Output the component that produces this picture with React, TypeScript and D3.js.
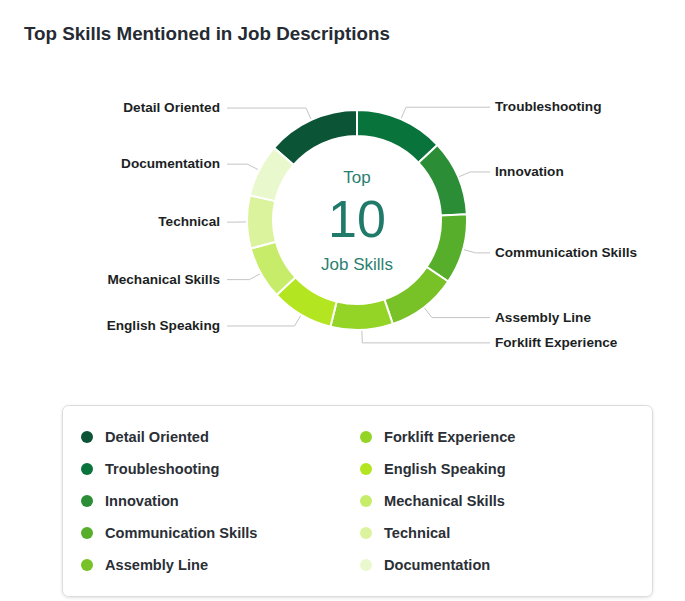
import React from "react";
import * as d3 from "d3";

const title = "Top Skills Mentioned in Job Descriptions";
const categories = [
  "Detail Oriented",
  "Troubleshooting",
  "Innovation",
  "Communication Skills",
  "Assembly Line",
  "Forklift Experience",
  "English Speaking",
  "Mechanical Skills",
  "Technical",
  "Documentation",
];
const values = [49, 47, 40, 37, 37, 33, 33, 28, 28, 28];
const colors = [
  "#0b5436",
  "#08733a",
  "#2b8e37",
  "#56ae2b",
  "#78c126",
  "#94d426",
  "#b3e620",
  "#c6ec69",
  "#dbf39d",
  "#eaf8ce",
];
const centerTop = "Top";
const centerNumber = "10";
const centerBottom = "Job Skills";

const FONT = "'Liberation Sans', Arial, Helvetica, sans-serif";

export default function App() {
  const W = 685;
  const H = 601;
  const cx = 357;
  const cy = 220;
  const rOuter = 110;
  const rInner = 84;
  const total = d3.sum(values);
  const start = (-values[0] / total) * Math.PI * 2;

  const pie = d3
    .pie<number>()
    .sort(null)
    .value((d) => d)
    .startAngle(start)
    .endAngle(start + Math.PI * 2);
  const arcs = pie(values);
  const arcGen = d3.arc<d3.PieArcDatum<number>>().innerRadius(rInner).outerRadius(rOuter);

  const pt = (a: number, r: number) => [Math.sin(a) * r, -Math.cos(a) * r];

  const legendRows = 5;
  const legendX = [87, 366];
  const legendY0 = 437;
  const legendDy = 32;

  return (
    <div style={{ position: "absolute", left: 0, top: 0, width: W, height: H, background: "#fff" }}>
      <svg width={W} height={H} style={{ display: "block" }} fontFamily={FONT}>
        <defs>
          <filter id="sh" x="-5%" y="-10%" width="110%" height="120%">
            <feDropShadow dx="0" dy="1" stdDeviation="1.5" floodColor="#000" floodOpacity="0.12" />
          </filter>
        </defs>
        <text x={24} y={40} fontSize={18.8} fontWeight="bold" fill="#262b33">
          {title}
        </text>

        <g transform={`translate(${cx},${cy})`}>
          {arcs.map((a, i) => (
            <path key={i} d={arcGen(a) || ""} fill={colors[i]} stroke="#fff" strokeWidth={2} />
          ))}
          {arcs.map((a, i) => {
            const mid = (a.startAngle + a.endAngle) / 2;
            const p0 = pt(mid, rOuter + 1);
            const p1 = pt(mid, rOuter + 13);
            const right = Math.sin(mid) > 0.001 || (Math.abs(Math.sin(mid)) <= 0.001 && i < 6);
            const xEnd = right ? 490 - cx : 227 - cx;
            const xText = right ? 495 - cx : 220 - cx;
            return (
              <g key={"l" + i}>
                <polyline
                  points={`${p0[0]},${p0[1]} ${p1[0]},${p1[1]} ${xEnd},${p1[1]}`}
                  fill="none"
                  stroke="#c4c4c4"
                  strokeWidth={1}
                />
                <text
                  x={xText}
                  y={p1[1]}
                  dy="0.3em"
                  textAnchor={right ? "start" : "end"}
                  fontSize={13.6}
                  fontWeight="bold"
                  fill="#1c1f24"
                >
                  {categories[i]}
                </text>
              </g>
            );
          })}
          <text x={0} y={-37} textAnchor="middle" fontSize={17} fill="#2a8070">
            {centerTop}
          </text>
          <text x={0} y={17} textAnchor="middle" fontSize={52} fill="#1f7a6a">
            {centerNumber}
          </text>
          <text x={0} y={50} textAnchor="middle" fontSize={17} fill="#2a8070">
            {centerBottom}
          </text>
        </g>

        <rect
          x={62.5}
          y={405.5}
          width={590}
          height={191}
          rx={6}
          fill="#fff"
          stroke="#dcdcdc"
          filter="url(#sh)"
        />
        {categories.map((c, i) => {
          const col = Math.floor(i / legendRows);
          const row = i % legendRows;
          const x = legendX[col];
          const y = legendY0 + row * legendDy;
          return (
            <g key={"lg" + i}>
              <circle cx={x} cy={y} r={6} fill={colors[i]} />
              <text x={x + 18} y={y} dy="0.35em" fontSize={14.6} fontWeight="bold" fill="#2b2f36">
                {c}
              </text>
            </g>
          );
        })}
      </svg>
    </div>
  );
}
